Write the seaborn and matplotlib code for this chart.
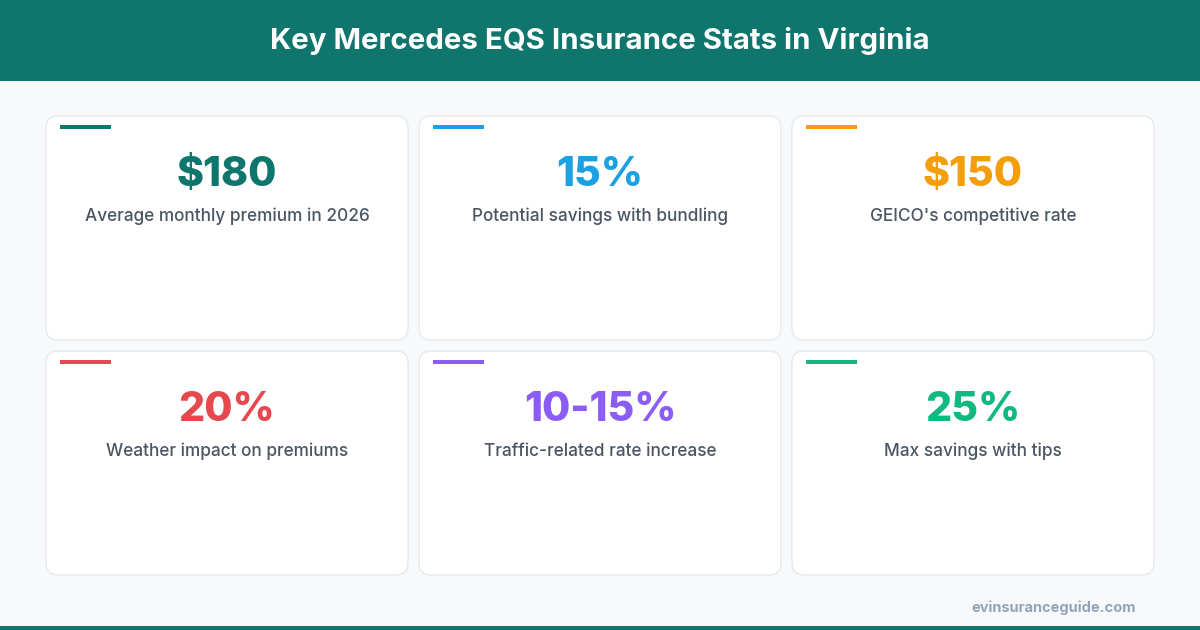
import matplotlib.pyplot as plt
import seaborn as sns
from matplotlib.patches import FancyBboxPatch, Rectangle

sns.set_theme(style="white")
plt.rcParams['font.family'] = ['Inter', 'DejaVu Sans']

# Card content
stat_values = ['$180', '15%', '$150', '20%', '10-15%', '25%']
stat_labels = ['Average monthly premium in 2026', 'Potential savings with bundling',
               "GEICO's competitive rate", 'Weather impact on premiums',
               'Traffic-related rate increase', 'Max savings with tips']
stat_colors = ['#0f766e', '#1ba1e2', '#f59e0b', '#e5484d', '#8b5cf6', '#10b981']

title = 'Key Mercedes EQS Insurance Stats in Virginia'
source = 'evinsuranceguide.com'
teal = '#10766d'

fig = plt.figure(figsize=(12, 6.3), dpi=100)
fig.patch.set_facecolor('#f7f9fb')
ax = fig.add_axes([0, 0, 1, 1])
ax.set_xlim(0, 1200)
ax.set_ylim(630, 0)
ax.axis('off')

# header band and bottom strip
ax.add_patch(Rectangle((0, 0), 1200, 81, color=teal, lw=0))
ax.add_patch(Rectangle((0, 626), 1200, 4, color=teal, lw=0))
ax.text(600, 41, title, color='white', fontsize=21.2, fontweight='bold',
        ha='center', va='center')

card_w, card_h = 362, 224
xs = [46, 419, 792]
ys = [116, 351]
for i, (val, lab, col) in enumerate(zip(stat_values, stat_labels, stat_colors)):
    x0 = xs[i % 3]
    y0 = ys[i // 3]
    ax.add_patch(FancyBboxPatch((x0, y0), card_w, card_h,
                                boxstyle='round,pad=0,rounding_size=12',
                                fc='white', ec='#e6e9ee', lw=1))
    ax.add_patch(Rectangle((x0 + 14, y0 + 9), 51, 4, color=col, lw=0))
    cx = x0 + card_w / 2
    ax.text(cx, y0 + 59, val, color=col, fontsize=29.5, fontweight='heavy',
            ha='center', va='center')
    ax.text(cx, y0 + 100, lab, color='#4b5563', fontsize=12.4, fontweight='medium',
            ha='center', va='center')

ax.text(1136, 608, source, color='#94a3b8', fontsize=10.5, fontweight='bold',
        ha='right', va='center')

fig.savefig('out.png', dpi=100, facecolor=fig.get_facecolor())
